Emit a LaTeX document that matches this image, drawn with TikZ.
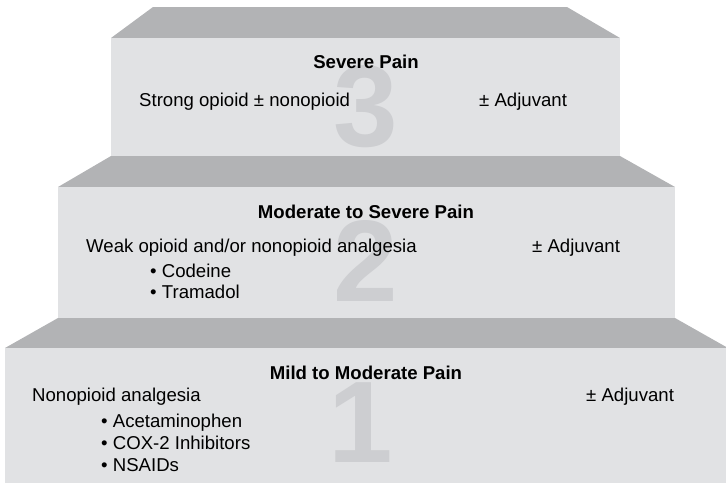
\documentclass[tikz,border=0pt]{standalone}
\usepackage{fontspec}
\setmainfont{Liberation Sans}
\usepackage{tikz}
\definecolor{stepfront}{RGB}{225,226,228}
\definecolor{steptop}{RGB}{178,179,181}
\definecolor{stepnumber}{RGB}{205,206,209}

\begin{document}
\begin{tikzpicture}[x=1pt,y=-1pt,
  topface/.style={fill=steptop},
  frontface/.style={fill=stepfront},
  bignum/.style={text=stepnumber,font=\fontsize{116}{116}\selectfont\bfseries,anchor=base,inner sep=0pt},
  stephead/.style={font=\fontsize{18.6}{22}\selectfont\bfseries,anchor=base,inner sep=0pt},
  steptext/.style={font=\fontsize{18.6}{22}\selectfont,anchor=base west,inner sep=0pt}]
\useasboundingbox (0,0) rectangle (726,483);
   %画像と同じ大きさの枠

%%3段目
\fill [topface] (153,7) -- (567,7) -- (620,38) -- (111,38) -- cycle;
   %上面(台形)
\fill [frontface] (111,38) rectangle (620,156);
   %前面
\node [bignum] (num3) at (366,146) {3};
\node [stephead] (head3) at (366,68) {Severe Pain};
\node [steptext] (drug3) at (139,106) {Strong opioid ± nonopioid};
\node [steptext] (adj3) at (479,106) {± Adjuvant};

%%2段目
\fill [topface] (111,156) -- (620,156) -- (675,187) -- (58,187) -- cycle;
\fill [frontface] (58,187) rectangle (675,318);
\node [bignum] (num2) at (366,301) {2};
\node [stephead] (head2) at (366,218) {Moderate to Severe Pain};
\node [steptext] (drug2) at (86,252) {Weak opioid and/or nonopioid analgesia};
\node [steptext] (adj2) at (532,252) {± Adjuvant};
\node [steptext] (codeine) at (150,277) {• Codeine};
\node [steptext] (tramadol) at (150,298) {• Tramadol};

%%1段目
\fill [topface] (58,318) -- (675,318) -- (728,348) -- (5,348) -- cycle;
\fill [frontface] (5,348) rectangle (728,483);
\node [bignum] (num1) at (361,462) {1};
\node [stephead] (head1) at (366,379) {Mild to Moderate Pain};
\node [steptext] (drug1) at (32,401) {Nonopioid analgesia};
\node [steptext] (adj1) at (586,401) {± Adjuvant};
\node [steptext] (acet) at (101,427) {• Acetaminophen};
\node [steptext] (cox) at (101,449) {• COX-2 Inhibitors};
\node [steptext] (nsaid) at (101,471) {• NSAIDs};
\end{tikzpicture}
\end{document}
